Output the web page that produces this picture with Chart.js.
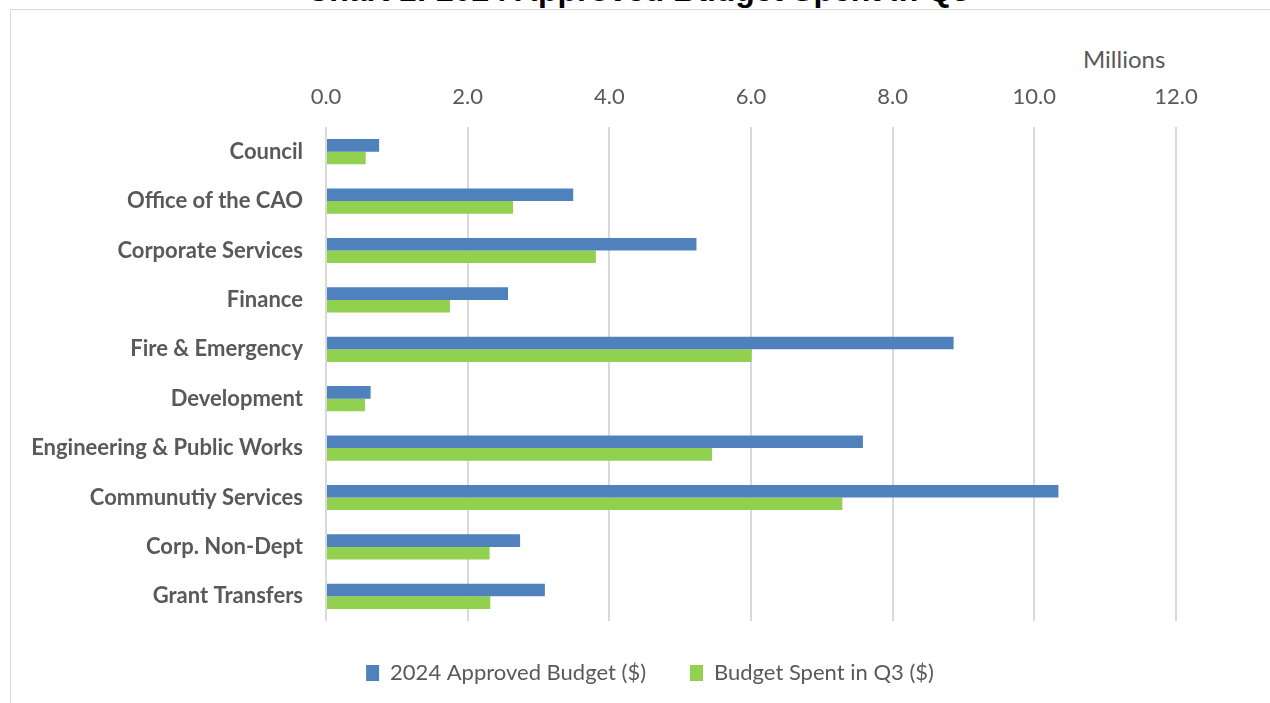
<!DOCTYPE html>
<html>
<head>
<meta charset="utf-8">
<script src="https://cdn.jsdelivr.net/npm/chart.js@4"></script>
<style>
  html, body { margin: 0; padding: 0; background: #fff; overflow: hidden; }
  #wrap { position: relative; width: 1270px; height: 703px; }
  #frame { position: absolute; left: 10px; top: 9px; width: 1300px; height: 760px; border: 1px solid #d9d9d9; box-sizing: border-box; }
  #title { position: absolute; left: 0; width: 1276px; top: -26px; text-align: center; font: bold 32px 'Liberation Sans', Arial, sans-serif; line-height: 32px; color: #000; white-space: nowrap; }
  #unit { position: absolute; left: 1083px; top: 44px; font: 24px Lato, sans-serif; color: #595959; }
  canvas { position: absolute; left: 0; top: 0; }
</style>
</head>
<body>
<div id="wrap">
  <div id="frame"></div>
  <div id="title">Chart 1: 2024 Approved Budget Spent in Q3</div>
  <div id="unit">Millions</div>
  <canvas id="chart" width="1270" height="703"></canvas>
</div>
<script>
// ── data (millions of $) ──
const departments = [
  'Council', 'Office of the CAO', 'Corporate Services', 'Finance', 'Fire & Emergency',
  'Development', 'Engineering & Public Works', 'Communutiy Services', 'Corp. Non-Dept', 'Grant Transfers'
];
const approvedBudget = [0.75, 3.49, 5.23, 2.57, 8.86, 0.63, 7.58, 10.34, 2.74, 3.09];
const spentQ3        = [0.56, 2.64, 3.81, 1.75, 6.01, 0.55, 5.45, 7.29, 2.31, 2.32];

const COLORS = {
  blue:  '#4f81bd',
  green: '#92d050',
  grid:  '#d9d9d9',
  text:  '#595959',
};

// nudge the legend to sit under the middle of the frame, like the original
const legendShift = {
  id: 'legendShift',
  afterLayout(chart) {
    const lg = chart.legend;
    lg.left += 62;
    lg.right += 62;
    lg.top -= 3;
    lg.bottom -= 3;
  },
};

new Chart(document.getElementById('chart'), {
  type: 'bar',
  data: {
    labels: departments,
    datasets: [
      { label: '2024 Approved Budget ($)', data: approvedBudget, backgroundColor: COLORS.blue },
      { label: 'Budget Spent in Q3 ($)',   data: spentQ3,        backgroundColor: COLORS.green },
    ],
  },
  options: {
    indexAxis: 'y',
    responsive: false,
    animation: false,
    datasets: { bar: { categoryPercentage: 0.51, barPercentage: 1 } },
    layout: { padding: { top: 60, right: 94, bottom: 6, left: 0 } },
    plugins: {
      tooltip: { enabled: false },
      legend: {
        position: 'bottom',
        labels: { color: COLORS.text, font: { family: 'Lato', size: 22 }, boxWidth: 13, boxHeight: 16, padding: 44 },
      },
    },
    scales: {
      x: {
        position: 'top',
        min: 0, max: 12,
        ticks: { stepSize: 2, color: COLORS.text, font: { family: 'Lato', size: 22 }, padding: 17, callback: v => v.toFixed(1) },
        grid: { color: COLORS.grid, lineWidth: 2, drawTicks: false },
        border: { display: false },
        afterFit: s => { s.height = 67; },
      },
      y: {
        ticks: { color: COLORS.text, font: { family: 'Lato', size: 22, weight: 'bold' }, padding: 15 },
        grid: { display: false },
        border: { display: false },
        afterFit: s => { s.width = 326; },
      },
    },
  },
  plugins: [legendShift],
});
</script>
</body>
</html>
